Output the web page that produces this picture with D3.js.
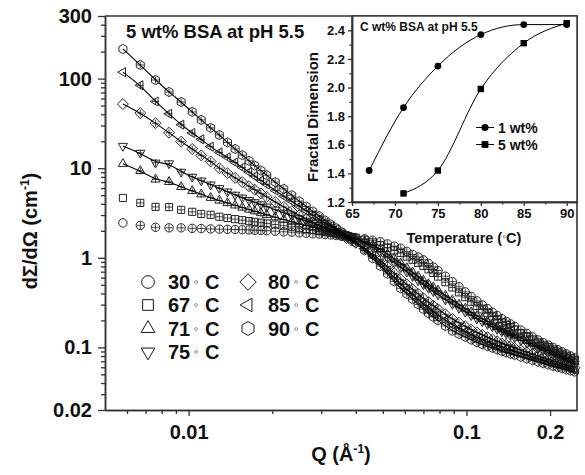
<!DOCTYPE html>
<html>
<head>
<meta charset="utf-8">
<script src="https://cdn.jsdelivr.net/npm/d3@7"></script>
<style>
  body { margin: 0; background: #fff; }
  text { font-family: "Liberation Sans", Arial, Helvetica, sans-serif; fill: #111; }
</style>
</head>
<body>
<div id="chart"></div>
<script>
// scattering vector Q (1/A)
const qValues = [0.0058, 0.0067, 0.0076, 0.0085, 0.0094, 0.0103, 0.0111, 0.0120, 0.0129, 0.0138,
  0.0147, 0.0156, 0.0165, 0.0173, 0.0182, 0.0191, 0.0205, 0.022, 0.0235, 0.025,
  0.0265, 0.028, 0.0295, 0.031, 0.0325, 0.034, 0.0355, 0.037, 0.0385, 0.040,
  0.043, 0.046, 0.049, 0.052, 0.055, 0.058, 0.061, 0.064, 0.067, 0.070,
  0.073, 0.076, 0.079, 0.084, 0.089, 0.094, 0.099, 0.104, 0.109, 0.114,
  0.119, 0.124, 0.129, 0.134, 0.139, 0.144, 0.149, 0.157, 0.165, 0.173,
  0.181, 0.189, 0.197, 0.205, 0.213, 0.221, 0.229, 0.237, 0.245]

// dSigma/dOmega (1/cm) for each temperature
const i30 = [2.45, 2.30, 2.19, 2.16, 2.16, 2.13, 2.12, 2.10, 2.09, 2.08,
  2.07, 2.06, 2.045, 2.03, 2.02, 2.005, 1.98, 1.95, 1.93, 1.90,
  1.88, 1.855, 1.84, 1.82, 1.80, 1.77, 1.745, 1.72, 1.695, 1.67,
  1.63, 1.57, 1.51, 1.43, 1.35, 1.28, 1.18, 1.09, 1.02, 0.948,
  0.866, 0.789, 0.720, 0.624, 0.542, 0.475, 0.417, 0.370, 0.330, 0.298,
  0.271, 0.247, 0.227, 0.209, 0.195, 0.183, 0.172, 0.156, 0.143, 0.131,
  0.121, 0.113, 0.106, 0.100, 0.0944, 0.0893, 0.0846, 0.0804, 0.0763]
const i67 = [4.66, 4.10, 3.70, 3.68, 3.43, 3.26, 3.09, 3.02, 2.87, 2.78,
  2.70, 2.63, 2.57, 2.52, 2.47, 2.42, 2.35, 2.28, 2.22, 2.16,
  2.10, 2.05, 1.99, 1.94, 1.89, 1.84, 1.79, 1.75, 1.71, 1.67,
  1.59, 1.49, 1.39, 1.29, 1.21, 1.13, 1.03, 0.950, 0.878, 0.812,
  0.743, 0.677, 0.617, 0.534, 0.466, 0.411, 0.363, 0.323, 0.290, 0.265,
  0.241, 0.221, 0.204, 0.189, 0.178, 0.168, 0.158, 0.145, 0.134, 0.123,
  0.114, 0.107, 0.101, 0.0950, 0.0897, 0.0850, 0.0805, 0.0765, 0.0727]
const i71 = [11.2, 9.33, 7.50, 7.04, 6.19, 5.59, 5.12, 4.68, 4.36, 4.09,
  3.85, 3.64, 3.46, 3.31, 3.16, 3.02, 2.84, 2.67, 2.53, 2.40,
  2.29, 2.19, 2.10, 2.01, 1.94, 1.87, 1.80, 1.74, 1.68, 1.63,
  1.52, 1.38, 1.25, 1.10, 0.977, 0.868, 0.771, 0.689, 0.619, 0.558,
  0.509, 0.467, 0.431, 0.379, 0.337, 0.302, 0.272, 0.247, 0.225, 0.209,
  0.194, 0.181, 0.169, 0.159, 0.150, 0.143, 0.136, 0.127, 0.118, 0.110,
  0.103, 0.0977, 0.0923, 0.0874, 0.0831, 0.0791, 0.0755, 0.0722, 0.0689]
const i75 = [17.7, 14.8, 11.5, 11.3, 9.09, 8.00, 7.26, 6.55, 5.97, 5.47,
  5.04, 4.69, 4.39, 4.16, 3.94, 3.72, 3.44, 3.18, 2.95, 2.74,
  2.58, 2.44, 2.31, 2.19, 2.09, 1.98, 1.88, 1.79, 1.70, 1.63,
  1.48, 1.31, 1.16, 1.01, 0.886, 0.784, 0.697, 0.622, 0.558, 0.503,
  0.459, 0.422, 0.389, 0.342, 0.305, 0.275, 0.249, 0.228, 0.209, 0.195,
  0.182, 0.171, 0.160, 0.151, 0.143, 0.136, 0.130, 0.120, 0.112, 0.105,
  0.0982, 0.0928, 0.0877, 0.0831, 0.0789, 0.0752, 0.0718, 0.0685, 0.0655]
const i80 = [52.0, 41.2, 31.8, 24.9, 19.8, 16.4, 13.9, 11.9, 10.0, 8.81,
  7.79, 6.99, 6.29, 5.76, 5.24, 4.79, 4.20, 3.70, 3.31, 2.98,
  2.72, 2.49, 2.29, 2.14, 2.01, 1.88, 1.77, 1.66, 1.56, 1.47,
  1.27, 1.09, 0.943, 0.794, 0.672, 0.576, 0.505, 0.445, 0.396, 0.353,
  0.320, 0.292, 0.268, 0.234, 0.208, 0.189, 0.172, 0.158, 0.147, 0.138,
  0.130, 0.123, 0.117, 0.111, 0.107, 0.103, 0.0989, 0.0935, 0.0885, 0.0841,
  0.0802, 0.0767, 0.0737, 0.0707, 0.0682, 0.0656, 0.0633, 0.0612, 0.0592]
const i85 = [118, 84.2, 55.5, 40.5, 30.6, 24.7, 21.0, 17.4, 15.0, 13.2,
  11.6, 10.2, 9.04, 8.14, 7.30, 6.59, 5.64, 4.86, 4.26, 3.76,
  3.34, 2.99, 2.70, 2.45, 2.25, 2.07, 1.90, 1.76, 1.63, 1.51,
  1.27, 1.05, 0.873, 0.720, 0.600, 0.506, 0.441, 0.387, 0.342, 0.303,
  0.274, 0.250, 0.230, 0.201, 0.179, 0.163, 0.150, 0.139, 0.129, 0.123,
  0.116, 0.110, 0.105, 0.100, 0.0970, 0.0935, 0.0902, 0.0857, 0.0816, 0.0777,
  0.0743, 0.0714, 0.0687, 0.0663, 0.0639, 0.0619, 0.0598, 0.0580, 0.0562]
const i90 = [214, 142, 96.5, 70.9, 54.8, 42.5, 34.6, 28.2, 23.5, 19.4,
  16.4, 14.0, 12.1, 10.7, 9.43, 8.35, 7.00, 5.88, 5.00, 4.28,
  3.74, 3.29, 2.92, 2.61, 2.36, 2.14, 1.94, 1.77, 1.61, 1.47,
  1.21, 0.985, 0.809, 0.662, 0.545, 0.456, 0.395, 0.345, 0.302, 0.267,
  0.240, 0.219, 0.200, 0.173, 0.153, 0.141, 0.131, 0.122, 0.114, 0.108,
  0.103, 0.0987, 0.0944, 0.0906, 0.0877, 0.0848, 0.0822, 0.0783, 0.0748, 0.0718,
  0.0689, 0.0665, 0.0641, 0.0620, 0.0601, 0.0583, 0.0565, 0.0550, 0.0535]

const seriesLabels = ["30", "67", "71", "75", "80", "85", "90"]
const xTickValues = [0.01, 0.1, 0.2]
const xTickLabels = ["0.01", "0.1", "0.2"]
const yTickValues = [0.02, 0.1, 1, 10, 100, 500]
const yTickLabels = ["0.02", "0.1", "1", "10", "100", "300"]

// inset: fractal dimension vs temperature
const insetTemp1 = [67, 71, 75, 80, 85, 90]
const insetFd1 = [1.42, 1.86, 2.15, 2.37, 2.44, 2.44]
const insetTemp5 = [71, 75, 80, 85, 90]
const insetFd5 = [1.26, 1.42, 1.99, 2.31, 2.45]
const insetXTicks = [65, 70, 75, 80, 85, 90]
const insetYTicks = [1.2, 1.4, 1.6, 1.8, 2.0, 2.2, 2.4]

var width = 585, height = 475
var frame = { left: 105, right: 577, top: 16, bottom: 410 }
var ink = '#1a1a1a'

var svg = d3.select('#chart').append('svg')
  .attr('width', width).attr('height', height)

var x = d3.scaleLog().domain([0.005, 0.25]).range([frame.left, frame.right])
var y = d3.scaleLog().domain([0.02, 500]).range([frame.bottom, frame.top])

// marker shapes
function poly(n, r, rot) {
  var pts = d3.range(n).map(function (k) {
    var a = (rot + k * 360 / n) * Math.PI / 180
    return (r * Math.cos(a)).toFixed(2) + ',' + (r * Math.sin(a)).toFixed(2)
  })
  return 'M' + pts.join('L') + 'Z'
}
function shapePath(kind, s) {
  switch (kind) {
    case 'circle': return d3.symbol(d3.symbolCircle, Math.PI * s * s)()
    case 'square': return poly(4, s * 1.2, 45)
    case 'up': return poly(3, s * 1.25, -90)
    case 'down': return poly(3, s * 1.25, 90)
    case 'diamond': return poly(4, s * 1.3, 0)
    case 'left': return poly(3, s * 1.25, 180)
    case 'hex': return poly(6, s * 1.1, -90)
  }
}

var series = [
  { label: seriesLabels[0], values: i30, shape: 'circle', fit: false },
  { label: seriesLabels[1], values: i67, shape: 'square', fit: false },
  { label: seriesLabels[2], values: i71, shape: 'up', fit: true },
  { label: seriesLabels[3], values: i75, shape: 'down', fit: true },
  { label: seriesLabels[4], values: i80, shape: 'diamond', fit: true },
  { label: seriesLabels[5], values: i85, shape: 'left', fit: true },
  { label: seriesLabels[6], values: i90, shape: 'hex', fit: true },
]

// data points
var plot = svg.append('g')
var cross = 'M-3.5,0H3.5M0,-3.5V3.5'
series.forEach(function (s) {
  var pts = qValues.map(function (q, i) { return { q: q, v: s.values[i], i: i } })
  plot.append('g').selectAll('g')
    .data(pts)
    .enter().append('g')
    .attr('transform', function (d) { return 'translate(' + x(d.q) + ',' + y(d.v) + ')' })
    .each(function (d) {
      var g = d3.select(this)
      g.append('path').attr('d', shapePath(s.shape, 4.2))
        .attr('fill', 'none').attr('stroke', ink).attr('stroke-width', 0.95)
      if (d.i > 0) {
        g.append('path').attr('d', cross).attr('stroke', ink).attr('stroke-width', 0.8)
      }
    })
})

// fitted curves
var fitLine = d3.line()
  .x(function (d) { return x(d.q) })
  .y(function (d) { return y(d.v) })
  .curve(d3.curveBasis)
series.filter(function (s) { return s.fit }).forEach(function (s) {
  plot.append('path')
    .datum(qValues.map(function (q, i) { return { q: q, v: s.values[i] } }))
    .attr('d', fitLine)
    .attr('fill', 'none').attr('stroke', '#000').attr('stroke-width', 1.1)
})

// main axes
function styleAxis(g, fontSize) {
  g.select('.domain').attr('stroke', '#333').attr('stroke-width', 1.6)
  g.selectAll('.tick line').attr('stroke', '#333').attr('stroke-width', 1.3)
  g.selectAll('.tick text').attr('font-size', fontSize).attr('font-weight', 'bold')
    .attr('fill', '#111').attr('font-family', '"Liberation Sans", Arial, sans-serif')
}

var xMinor = [0.006, 0.007, 0.008, 0.009, 0.02, 0.03, 0.04, 0.05, 0.06, 0.07, 0.08, 0.09]
var yMinor = []
;[0.01, 0.1, 1, 10, 100].forEach(function (dec) {
  d3.range(2, 10).forEach(function (k) {
    var v = +(k * dec).toPrecision(3)
    if (v > 0.02 && v < 500 && yTickValues.indexOf(v) < 0) yMinor.push(v)
  })
})

svg.append('g').attr('transform', 'translate(0,' + frame.bottom + ')')
  .call(d3.axisBottom(x).tickValues(xMinor).tickFormat('').tickSize(4).tickSizeOuter(0))
  .call(function (g) { styleAxis(g, 20) })
svg.append('g').attr('transform', 'translate(0,' + frame.bottom + ')')
  .call(d3.axisBottom(x).tickValues(xTickValues)
    .tickFormat(function (d, i) { return xTickLabels[i] })
    .tickSize(6).tickPadding(9).tickSizeOuter(0))
  .call(function (g) { styleAxis(g, 20) })

svg.append('g').attr('transform', 'translate(' + frame.left + ',0)')
  .call(d3.axisLeft(y).tickValues(yMinor).tickFormat('').tickSize(4).tickSizeOuter(0))
  .call(function (g) { styleAxis(g, 20) })
svg.append('g').attr('transform', 'translate(' + frame.left + ',0)')
  .call(d3.axisLeft(y).tickValues(yTickValues)
    .tickFormat(function (d, i) { return yTickLabels[i] })
    .tickSize(7).tickPadding(6).tickSizeOuter(0))
  .call(function (g) { styleAxis(g, 20) })

// top and right frame
svg.append('path')
  .attr('d', 'M' + frame.left + ',' + frame.top + 'H' + frame.right + 'V' + frame.bottom)
  .attr('fill', 'none').attr('stroke', '#333').attr('stroke-width', 1.6)

// axis titles
var xTitle = svg.append('text').attr('x', 341).attr('y', 461)
  .attr('text-anchor', 'middle').attr('font-size', 20).attr('font-weight', 'bold')
xTitle.append('tspan').text('Q (Å')
xTitle.append('tspan').attr('dy', -8).attr('font-size', 12).text('-1')
xTitle.append('tspan').attr('dy', 8).text(')')

var yTitle = svg.append('text')
  .attr('transform', 'translate(37,231) rotate(-90)')
  .attr('text-anchor', 'middle').attr('font-size', 20).attr('font-weight', 'bold')
yTitle.append('tspan').text('dΣ/dΩ (cm')
yTitle.append('tspan').attr('dy', -8).attr('font-size', 12).text('-1')
yTitle.append('tspan').attr('dy', 8).text(')')

svg.append('text').attr('x', 126).attr('y', 38)
  .attr('font-size', 18.5).attr('font-weight', 'bold')
  .text('5 wt% BSA at pH 5.5')

// legend
var legendCols = [148, 248]
var legendRows = [282, 305, 328.5, 352]
series.forEach(function (s, i) {
  var cx = legendCols[i < 4 ? 0 : 1]
  var cy = legendRows[i < 4 ? i : i - 4]
  svg.append('path').attr('transform', 'translate(' + cx + ',' + cy + ')')
    .attr('d', shapePath(s.shape, 6.3))
    .attr('fill', 'none').attr('stroke', ink).attr('stroke-width', 1)
  var t = svg.append('text').attr('y', cy + 7).attr('font-size', 20).attr('font-weight', 'bold')
  t.append('tspan').attr('x', cx + 20).text(s.label)
  t.append('tspan').attr('x', cx + 46).attr('font-size', 13).attr('font-weight', 'normal')
    .attr('dy', -3).text('◦')
  t.append('tspan').attr('x', cx + 57).attr('dy', 3).text('C')
})

// ---------- inset ----------
var inset = { left: 352, right: 577, top: 16, bottom: 202 }
var ix = d3.scaleLinear().domain([65, 91.2]).range([inset.left, inset.right])
var iy = d3.scaleLinear().domain([1.2, 2.5]).range([inset.bottom, inset.top])

svg.append('rect')
  .attr('x', inset.left).attr('y', inset.top)
  .attr('width', inset.right - inset.left).attr('height', inset.bottom - inset.top)
  .attr('fill', '#fff').attr('stroke', '#333').attr('stroke-width', 1.4)

var ixMinor = [67.5, 72.5, 77.5, 82.5, 87.5]
var iyMinor = [1.3, 1.5, 1.7, 1.9, 2.1, 2.3]
svg.append('g').attr('transform', 'translate(0,' + inset.bottom + ')')
  .call(d3.axisBottom(ix).tickValues(ixMinor).tickFormat('').tickSize(2.5).tickSizeOuter(0))
  .call(function (g) { styleAxis(g, 13) })
svg.append('g').attr('transform', 'translate(0,' + inset.bottom + ')')
  .call(d3.axisBottom(ix).tickValues(insetXTicks).tickFormat(d3.format('d'))
    .tickSize(4).tickPadding(3).tickSizeOuter(0))
  .call(function (g) { styleAxis(g, 13) })
svg.append('g').attr('transform', 'translate(' + inset.left + ',0)')
  .call(d3.axisLeft(iy).tickValues(iyMinor).tickFormat('').tickSize(2.5).tickSizeOuter(0))
  .call(function (g) { styleAxis(g, 13) })
svg.append('g').attr('transform', 'translate(' + inset.left + ',0)')
  .call(d3.axisLeft(iy).tickValues(insetYTicks).tickFormat(d3.format('.1f'))
    .tickSize(4).tickPadding(3).tickSizeOuter(0))
  .call(function (g) { styleAxis(g, 13) })
svg.selectAll('.domain').attr('stroke-width', 1.5)

var insetLine = d3.line()
  .x(function (d) { return ix(d.t) })
  .y(function (d) { return iy(d.fd) })
  .curve(d3.curveMonotoneX)
var set1 = insetTemp1.map(function (t, i) { return { t: t, fd: insetFd1[i] } })
var set5 = insetTemp5.map(function (t, i) { return { t: t, fd: insetFd5[i] } })

svg.append('path').datum(set1).attr('d', insetLine)
  .attr('fill', 'none').attr('stroke', '#000').attr('stroke-width', 1)
svg.append('path').datum(set5).attr('d', insetLine)
  .attr('fill', 'none').attr('stroke', '#000').attr('stroke-width', 1)
svg.append('g').selectAll('circle').data(set1).enter().append('circle')
  .attr('cx', function (d) { return ix(d.t) }).attr('cy', function (d) { return iy(d.fd) })
  .attr('r', 3.4).attr('fill', '#000')
svg.append('g').selectAll('rect').data(set5).enter().append('rect')
  .attr('x', function (d) { return ix(d.t) - 3.2 }).attr('y', function (d) { return iy(d.fd) - 3.2 })
  .attr('width', 6.4).attr('height', 6.4).attr('fill', '#000')

// inset legend
;[{ y: 127.5, label: '1 wt%', sym: 'circle' }, { y: 144.5, label: '5 wt%', sym: 'square' }]
  .forEach(function (l) {
    svg.append('line').attr('x1', 476).attr('x2', 494).attr('y1', l.y).attr('y2', l.y)
      .attr('stroke', '#000').attr('stroke-width', 1)
    if (l.sym === 'circle') {
      svg.append('circle').attr('cx', 485).attr('cy', l.y).attr('r', 3.6).attr('fill', '#000')
    } else {
      svg.append('rect').attr('x', 481.6).attr('y', l.y - 3.4).attr('width', 6.8).attr('height', 6.8).attr('fill', '#000')
    }
    svg.append('text').attr('x', 498).attr('y', l.y + 5)
      .attr('font-size', 14).attr('font-weight', 'bold').text(l.label)
  })

svg.append('text').attr('x', 360).attr('y', 31)
  .attr('font-size', 12).attr('font-weight', 'bold')
  .text('C wt% BSA at pH 5.5')

var tTitle = svg.append('text').attr('x', 464).attr('y', 243)
  .attr('text-anchor', 'middle').attr('font-size', 14.5).attr('font-weight', 'bold')
tTitle.append('tspan').text('Temperature (')
tTitle.append('tspan').attr('font-weight', 'normal').attr('font-size', 11).attr('dy', -3).text('◦')
tTitle.append('tspan').attr('dy', 3).text('C)')

svg.append('text')
  .attr('transform', 'translate(318,117) rotate(-90)')
  .attr('text-anchor', 'middle').attr('font-size', 15).attr('font-weight', 'bold')
  .text('Fractal Dimension')
</script>
</body>
</html>
